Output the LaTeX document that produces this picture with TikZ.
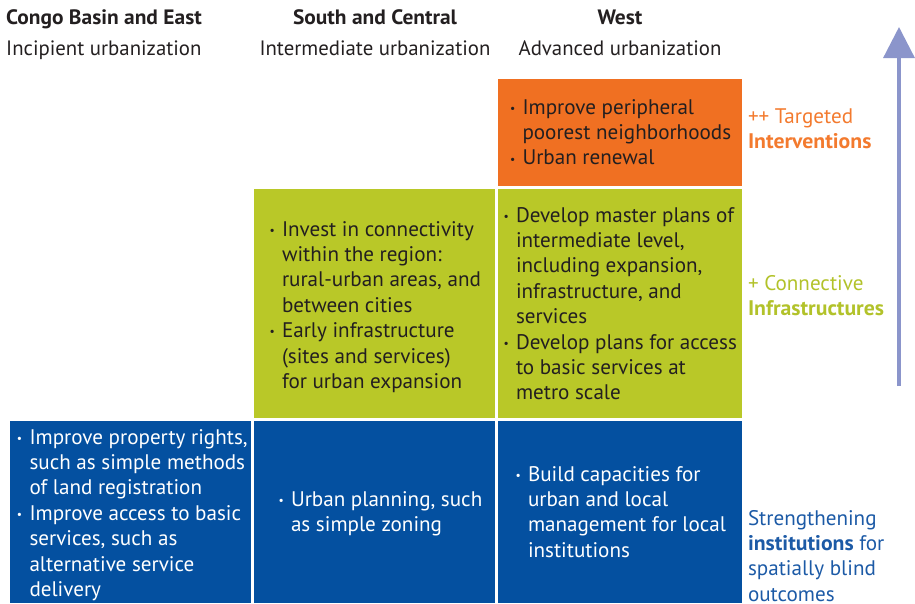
\documentclass[tikz,border=0pt]{standalone}
\usepackage{fontspec}
\setmainfont{PT Sans}[BoldFeatures={FakeStretch=1.03}]
\usetikzlibrary{arrows.meta}

\definecolor{orangefill}{HTML}{F07022}
\definecolor{greenfill}{HTML}{B9C828}
\definecolor{bluefill}{HTML}{0450A0}
\definecolor{darktext}{HTML}{231F20}
\definecolor{orangetext}{HTML}{F37A2E}
\definecolor{greentext}{HTML}{B2C22A}
\definecolor{bluetext}{HTML}{1C5AA6}
\definecolor{arrowcol}{HTML}{8B95CB}

% small bullet with hanging indent for list items
\newcommand{\bu}{\makebox[13.5pt][l]{\hspace*{1pt}\raisebox{0.08em}{\scalebox{0.55}{\textbullet}}}}
\newcommand{\hg}{\hspace*{13.5pt}}
\newcommand{\bodyfont}{\fontsize{21.1}{25.4}\selectfont}
% top-aligned text block whose first baseline sits at the node's base anchor
\newcommand{\blk}[2]{\parbox[t]{#1}{\bodyfont\raggedright #2}}

\begin{document}
\begin{tikzpicture}[x=1pt,y=-1pt,
  cell/.style={anchor=north west, inner sep=0pt, outer sep=0pt},
  txt/.style={anchor=base west, inner sep=0pt, outer sep=0pt},
  head/.style={anchor=base, inner sep=0pt, font=\fontsize{20.8}{24}\selectfont, text=darktext},
  headl/.style={head, anchor=base west}]
\useasboundingbox (0,0) rectangle (915,603);

% column headings
\node[headl] (h1a) at (6,24) {\bfseries Congo Basin and East};
\node[headl] (h1b) at (6,55) {Incipient urbanization};
\node[head] (h2a) at (375,24) {\bfseries South and Central};
\node[head] (h2b) at (375,55) {Intermediate urbanization};
\node[head] (h3a) at (620,24) {\bfseries West};
\node[head] (h3b) at (620,55) {Advanced urbanization};

% cells
\node[cell, fill=orangefill, minimum width=244, minimum height=107] (co) at (498,79) {};
\node[cell, fill=greenfill, minimum width=241, minimum height=229] (cg1) at (254,189) {};
\node[cell, fill=greenfill, minimum width=244, minimum height=229] (cg2) at (498,189) {};
\node[cell, fill=bluefill, minimum width=241, minimum height=182] (cb1) at (10,421) {};
\node[cell, fill=bluefill, minimum width=241, minimum height=182] (cb2) at (254,421) {};
\node[cell, fill=bluefill, minimum width=244, minimum height=182] (cb3) at (498,421) {};

% cell texts
\node[txt, text=darktext] (to) at (509,114) {\blk{260pt}{%
\bu Improve peripheral\\\hg poorest neighborhoods\\\bu Urban renewal}};
\node[txt, text=darktext] (tg1) at (268.5,236) {\blk{260pt}{%
\bu Invest in connectivity\\\hg within the region:\\\hg rural-urban areas, and\\\hg between cities\\%
\bu Early infrastructure\\\hg (sites and services)\\\hg for urban expansion}};
\node[txt, text=darktext] (tg2) at (502.5,222) {\blk{260pt}{%
\bu Develop master plans of\\\hg intermediate level,\\\hg including expansion,\\\hg infrastructure, and\\\hg services\\%
\bu Develop plans for access\\\hg to basic services at\\\hg metro scale}};
\node[txt, text=white] (tb1) at (16,444) {\blk{260pt}{%
\bu Improve property rights,\\\hg such as simple methods\\\hg of land registration\\%
\bu Improve access to basic\\\hg services, such as\\\hg alternative service\\\hg delivery}};
\node[txt, text=white] (tb2) at (277.5,506) {\blk{260pt}{%
\bu Urban planning, such\\\hg as simple zoning}};
\node[txt, text=white] (tb3) at (514.5,481) {\blk{260pt}{%
\bu Build capacities for\\\hg urban and local\\\hg management for local\\\hg institutions}};

% side labels
\node[txt, text=orangetext] (lo) at (748,123) {\blk{170pt}{++ Targeted\\\textbf{Interventions}}};
\node[txt, text=greentext] (lg) at (748,290) {\blk{170pt}{+ Connective\\\textbf{Infrastructures}}};
\node[txt, text=bluetext] (lb) at (748,525) {\blk{170pt}{Strengthening\\\textbf{institutions} for\\spatially blind\\outcomes}};

% upward arrow
\coordinate (abot) at (899,386);
\coordinate (atop) at (899,27);
\draw[arrowcol, line width=3.3pt, -{Triangle[length=31pt,width=31pt]}] (abot) -- (atop);
\end{tikzpicture}
\end{document}
